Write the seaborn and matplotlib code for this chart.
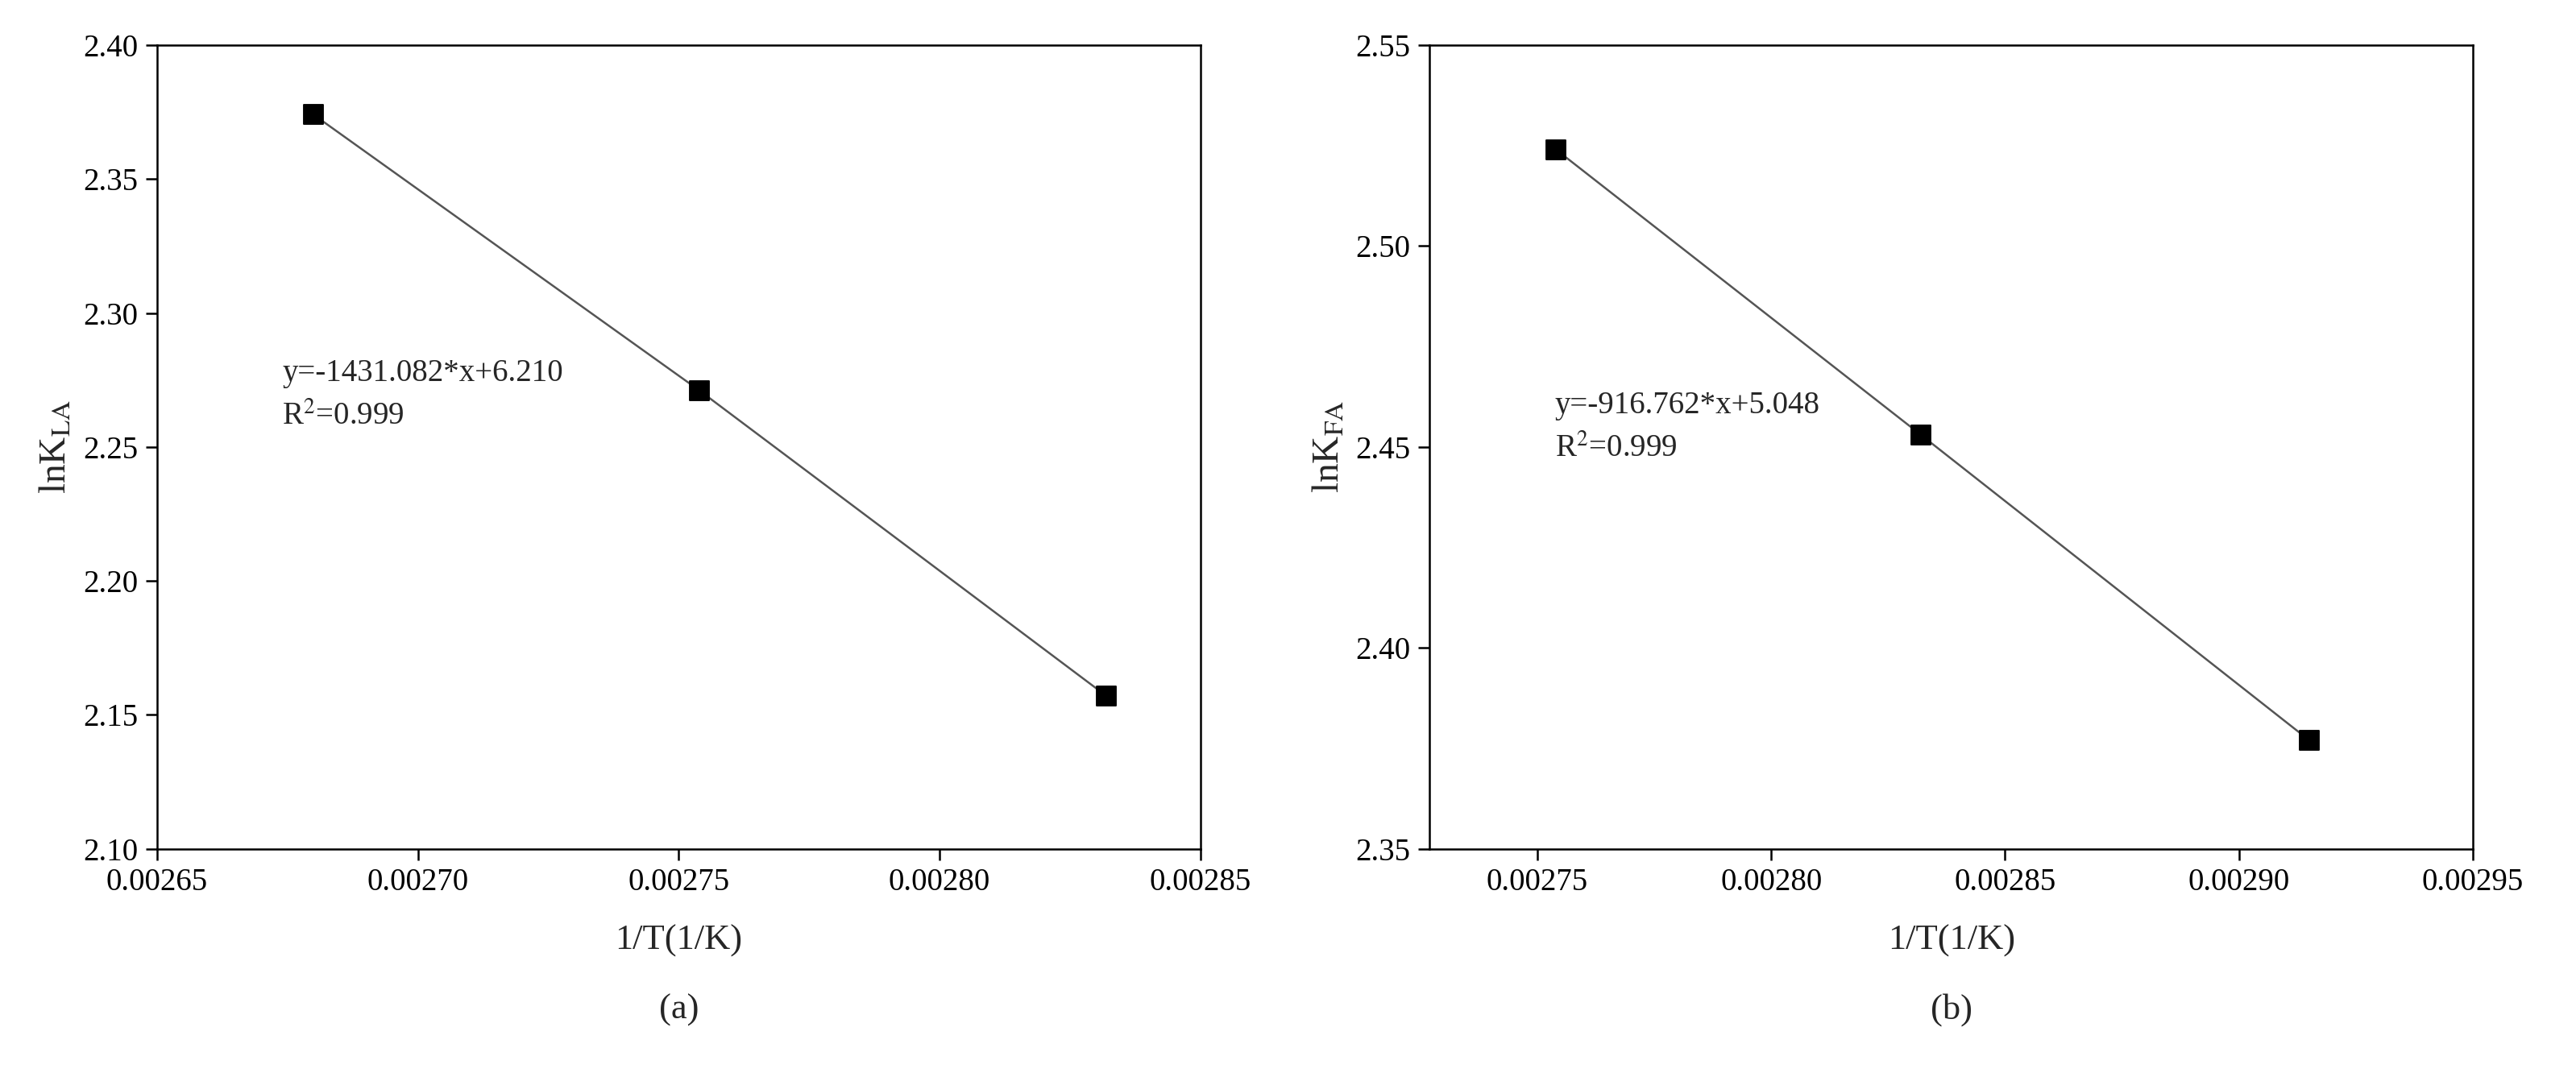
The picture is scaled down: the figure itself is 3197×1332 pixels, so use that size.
import matplotlib
matplotlib.use("Agg")
import matplotlib.pyplot as plt
import seaborn as sns
import numpy as np

sns.set_theme(style="ticks")
plt.rcParams['font.family'] = ['Liberation Serif', 'DejaVu Serif']
plt.rcParams['mathtext.fontset'] = 'stix'

xa = [0.002680, 0.002754, 0.002832]
ya = [2.374, 2.271, 2.157]
xb = [0.002754, 0.002832, 0.002915]
yb = [2.524, 2.453, 2.377]

fig = plt.figure(figsize=(15.985, 6.66), dpi=200)
axA = fig.add_axes([0.061, 0.209, 0.405, 0.749])
axB = fig.add_axes([0.555, 0.209, 0.405, 0.749])

def panel(ax, x, y, xlim, xt, ylim, yt, ylabel, eq, eqpos, tag):
    ax.plot(x, y, color='#555555', lw=0.9, zorder=1)
    sns.scatterplot(x=x, y=y, ax=ax, marker='s', color='black', s=70, edgecolor='black', zorder=2)
    ax.set_xlim(*xlim); ax.set_ylim(*ylim)
    ax.set_xticks(xt); ax.set_yticks(yt)
    ax.set_xticklabels([f"{v:.5f}" for v in xt])
    ax.set_yticklabels([f"{v:.2f}" for v in yt])
    ax.tick_params(labelsize=14, direction='out', length=5, width=0.9, colors='black')
    for s in ax.spines.values():
        s.set_linewidth(0.9); s.set_color('black')
    ax.set_xlabel("1/T(1/K)", fontsize=16, labelpad=12)
    ax.set_ylabel(ylabel, fontsize=17)
    ax.text(eqpos[0], eqpos[1], eq + "\n" + r"R$^2$=0.999", transform=ax.transAxes, fontsize=14, va='top', linespacing=1.6)
    ax.text(0.5, -0.18, tag, transform=ax.transAxes, fontsize=16, ha='center', va='top')

panel(axA, xa, ya, (0.00265, 0.00285), np.arange(0.00265, 0.002851, 0.00005),
      (2.10, 2.40), np.arange(2.10, 2.401, 0.05), r"lnK$_{\rm LA}$",
      "y=-1431.082*x+6.210", (0.12, 0.61), "(a)")
panel(axB, xb, yb, (0.002727, 0.00295), np.arange(0.00275, 0.002951, 0.00005),
      (2.35, 2.55), np.arange(2.35, 2.551, 0.05), r"lnK$_{\rm FA}$",
      "y=-916.762*x+5.048", (0.12, 0.57), "(b)")

fig.savefig("out.png", dpi=200)
